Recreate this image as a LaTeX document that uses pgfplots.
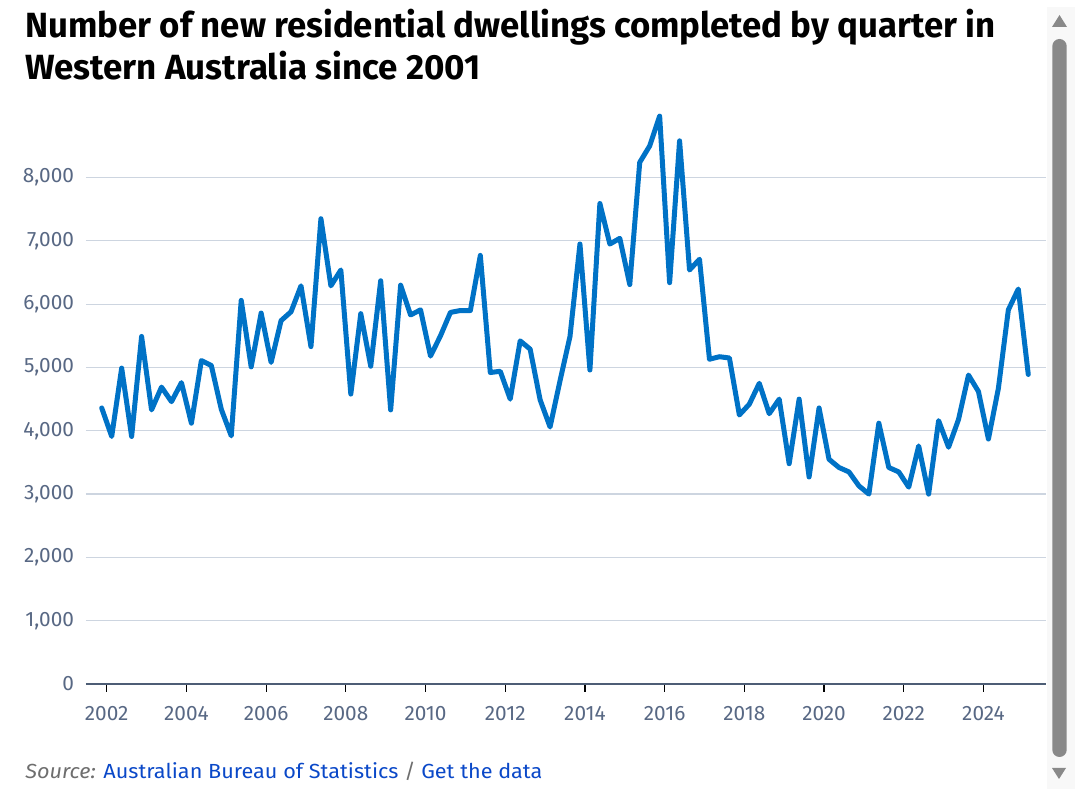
\documentclass[border=0pt]{standalone}
\usepackage{fontspec}
\setmainfont{Fira Sans}
\usepackage{pgfplots}
\pgfplotsset{compat=1.18}
\usepackage{graphicx}
\definecolor{linecol}{RGB}{0,114,198}
\definecolor{ticklab}{RGB}{88,104,132}
\definecolor{gridcol}{RGB}{205,213,224}
\definecolor{axiscol}{RGB}{77,93,117}
\definecolor{srcgray}{RGB}{110,110,110}
\definecolor{linkblue}{RGB}{10,72,200}
\definecolor{thumb}{RGB}{137,137,137}
\definecolor{track}{RGB}{248,248,248}
\begin{document}
\begin{tikzpicture}
\path[use as bounding box] (0,0) rectangle (540pt,398pt);
% scrollbar
\fill[track] (523.5pt,3.5pt) rectangle (537.5pt,394.5pt);
\fill[thumb,rounded corners=3.6pt] (526.15pt,19.5pt) rectangle (533.35pt,378.5pt);
\fill[thumb] (529.75pt,390.5pt) -- (526pt,384.5pt) -- (533.5pt,384.5pt) -- cycle;
\fill[thumb] (529.5pt,8.5pt) -- (526pt,14pt) -- (533pt,14pt) -- cycle;
% title
\node[anchor=base west,inner sep=0pt] at (12.5pt,379pt)
  {\resizebox{485pt}{\height}{\fontsize{17.5}{20}\selectfont\bfseries Number of new residential dwellings completed by quarter in}};
\node[anchor=base west,inner sep=0pt] at (12.5pt,358pt)
  {\resizebox{227.5pt}{\height}{\fontsize{17.5}{20}\selectfont\bfseries Western Australia since 2001}};
% source
\node[anchor=base west,inner sep=0pt] at (12.5pt,8.5pt)
  {\resizebox{258.5pt}{\height}{\fontsize{10.2}{12}\selectfont\textcolor{srcgray}{\itshape Source:} \textcolor{linkblue}{Australian Bureau of Statistics} \textcolor{srcgray}{/} \textcolor{linkblue}{Get the data}}};
\begin{axis}[
  at={(43pt,56pt)}, anchor=south west,
  scale only axis, width=480pt, height=291.2pt,
  xmin=2001.48, xmax=2025.57, ymin=0, ymax=9200,
  axis x line=bottom, axis y line=left,
  x axis line style={-,draw=axiscol,line width=1.1pt},
  y axis line style={draw=none},
  xtick={2002,2004,...,2024},
  xticklabels={2002,2004,2006,2008,2010,2012,2014,2016,2018,2020,2022,2024},
  ytick={0,1000,...,8000},
  yticklabels={0,{1,000},{2,000},{3,000},{4,000},{5,000},{6,000},{7,000},{8,000}},
  ymajorgrids, grid style={gridcol,line width=0.6pt},
  tick align=outside,
  major tick length=4pt,
  xtick style={draw=black,line width=0.6pt},
  ytick style={draw=none},
  tick label style={font=\fontsize{10.4}{12}\selectfont, text=ticklab},
  x tick label style={anchor=base, inner sep=0pt, yshift=-14.5pt},
  y tick label style={anchor=east, inner sep=0pt, xshift=-1.8pt},
  clip=false,
]
\addplot[linecol, line width=2.5pt, line join=round, line cap=round] coordinates {
(2001.875,4360)
(2002.125,3910) (2002.375,4990) (2002.625,3910) (2002.875,5490)
(2003.125,4330) (2003.375,4690) (2003.625,4460) (2003.875,4760)
(2004.125,4120) (2004.375,5110) (2004.625,5030) (2004.875,4340)
(2005.125,3920) (2005.375,6060) (2005.625,5010) (2005.875,5860)
(2006.125,5080) (2006.375,5740) (2006.625,5880) (2006.875,6290)
(2007.125,5330) (2007.375,7350) (2007.625,6290) (2007.875,6540)
(2008.125,4580) (2008.375,5850) (2008.625,5020) (2008.875,6370)
(2009.125,4330) (2009.375,6300) (2009.625,5830) (2009.875,5910)
(2010.125,5180) (2010.375,5500) (2010.625,5870) (2010.875,5900)
(2011.125,5900) (2011.375,6770) (2011.625,4920) (2011.875,4940)
(2012.125,4500) (2012.375,5420) (2012.625,5290) (2012.875,4490)
(2013.125,4060) (2013.375,4790) (2013.625,5490) (2013.875,6950)
(2014.125,4960) (2014.375,7590) (2014.625,6950) (2014.875,7040)
(2015.125,6310) (2015.375,8240) (2015.625,8500) (2015.875,8970)
(2016.125,6340) (2016.375,8580) (2016.625,6540) (2016.875,6710)
(2017.125,5130) (2017.375,5170) (2017.625,5150) (2017.875,4250)
(2018.125,4420) (2018.375,4750) (2018.625,4270) (2018.875,4500)
(2019.125,3480) (2019.375,4500) (2019.625,3270) (2019.875,4360)
(2020.125,3550) (2020.375,3420) (2020.625,3350) (2020.875,3130)
(2021.125,3000) (2021.375,4120) (2021.625,3420) (2021.875,3350)
(2022.125,3110) (2022.375,3760) (2022.625,3000) (2022.875,4160)
(2023.125,3740) (2023.375,4180) (2023.625,4880) (2023.875,4620)
(2024.125,3870) (2024.375,4670) (2024.625,5910) (2024.875,6240)
(2025.125,4890)
};
\end{axis}
\end{tikzpicture}
\end{document}
